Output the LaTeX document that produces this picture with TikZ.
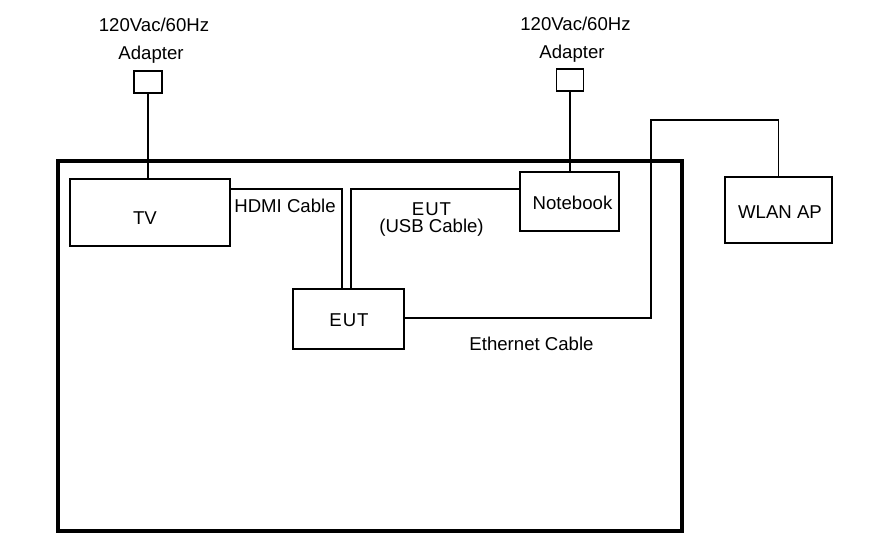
\documentclass[tikz,border=0pt]{standalone}
\usepackage{fontspec}
\setmainfont{Liberation Sans}
\begin{document}
\begin{tikzpicture}[x=1pt,y=-1pt,
  every node/.style={font=\fontsize{18.6}{22}\selectfont},
  box/.style={draw,line width=1.2pt,inner sep=0pt},
  cable/.style={line width=1.2pt},
  lbl/.style={anchor=base,inner sep=0pt}]
\useasboundingbox (0,0) rectangle (885,550);
% outer frame
\draw[line width=4pt] (58,160.5) rectangle (681.5,530.5);
% adapters
\node[box,minimum width=28pt,minimum height=22pt] (ad1) at (148,82) {};
\node[box,minimum width=27pt,minimum height=22pt] (ad2) at (570,80) {};
\node[lbl] (ad1t1) at (154,31.5) {120Vac/60Hz};
\node[lbl] (ad1t2) at (151,59) {Adapter};
\node[lbl] (ad2t1) at (575.5,30) {120Vac/60Hz};
\node[lbl] (ad2t2) at (572,58) {Adapter};
% devices
\node[box,minimum width=160pt,minimum height=67pt] (tv) at (150,212.5) {};
\node[lbl] (tvt) at (145,224) {TV};
\node[box,minimum width=111pt,minimum height=60pt] (eut) at (348.5,319) {};
\node[lbl] (eutt) at (349,326.5) {E\kern1ptU\kern1ptT};
\node[box,minimum width=99pt,minimum height=59pt] (nb) at (569.5,201.5) {};
\node[lbl] (nbt) at (572.5,209.3) {Notebook};
\node[box,minimum width=107pt,minimum height=66pt] (wlan) at (778.5,210) {};
\node[lbl] (wlant) at (780,218.3) {WLAN AP};
% cable labels
\node[lbl] (hdmil) at (285,212.5) {HDMI Cable};
\node[lbl] (usbl1) at (431.5,215) {E\kern1ptU\kern1ptT};
\node[lbl] (usbl2) at (431.5,232) {(USB Cable)};
\node[lbl] (ethl) at (531.5,350) {Ethernet Cable};
% cables
\draw[cable] (ad1.south) -- (ad1.south |- tv.north);
\draw[cable] (ad2.south) -- (ad2.south |- nb.north);
\coordinate (h1) at (342,189);
\coordinate (u1) at (351,189);
\draw[cable] (tv.east |- h1) -- (h1) -- (h1 |- eut.north);
\draw[cable] (u1 |- eut.north) -- (u1) -- (u1 -| nb.west);
\coordinate (e1) at (651,318);
\coordinate (e2) at (651,120);
\coordinate (e3) at (778.5,120);
\draw[cable] (eut.east |- e1) -- (e1) -- (e2) -- (e3) -- (wlan.north);
\end{tikzpicture}
\end{document}
